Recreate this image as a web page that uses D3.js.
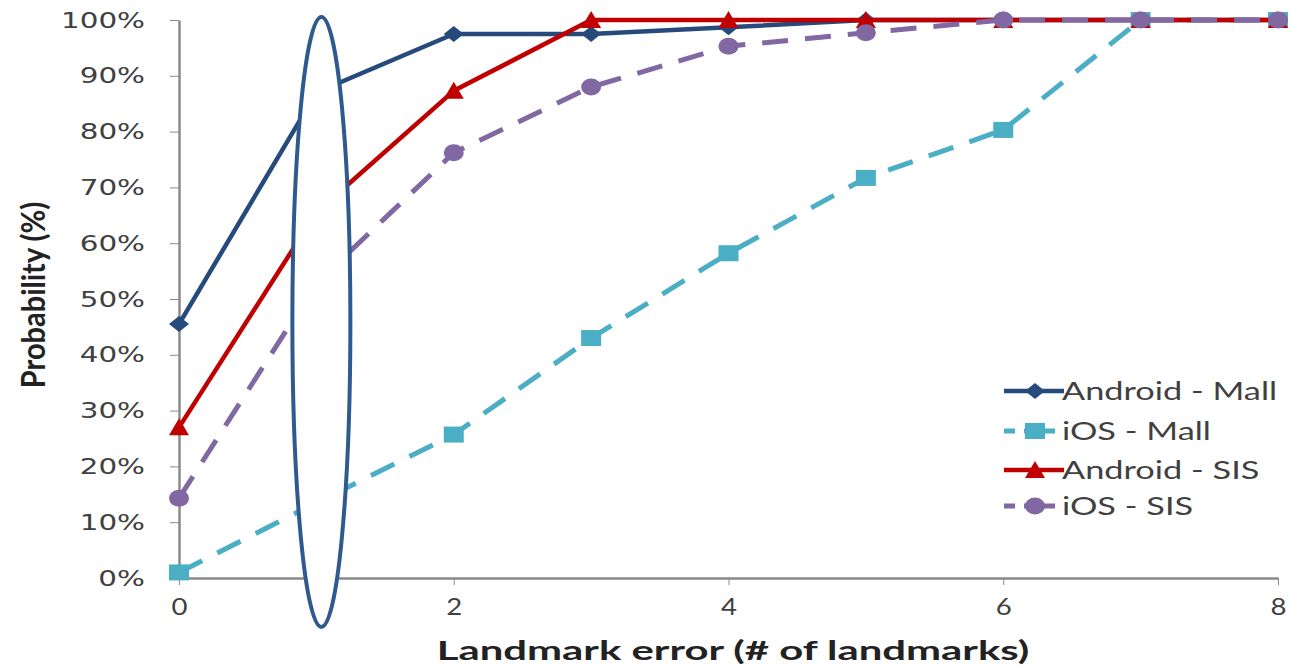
<!DOCTYPE html>
<html>
<head>
<meta charset="utf-8">
<script src="https://cdn.jsdelivr.net/npm/d3@7"></script>
<style>
  html, body { margin: 0; padding: 0; background: #fff; }
  svg { display: block; }
</style>
</head>
<body>
<svg id="chart" width="1290" height="666"></svg>
<script>
// Landmark error on the x axis, cumulative probability on the y axis
const landmarkError = [0, 1, 2, 3, 4, 5, 6, 7, 8];
const androidMall = [45.5, 87, 97.5, 97.5, 98.7, 100, 100, 100, 100];
const iosMall     = [1, 13.5, 25.7, 43, 58.2, 71.7, 80.3, 100, 100];
const androidSIS  = [27, 65.5, 87.3, 100, 100, 100, 100, 100, 100];
const iosSIS      = [14.3, 52.8, 76.2, 88, 95.3, 97.7, 100, 100, 100];

const xTickValues = [0, 2, 4, 6, 8];
const yTickValues = [0, 10, 20, 30, 40, 50, 60, 70, 80, 90, 100];

const seriesNames = ["Android - Mall", "iOS - Mall", "Android - SIS", "iOS - SIS"];
const seriesColors = ["#264a7c", "#4aaec4", "#c00000", "#8168a3"];
const seriesMarkers = ["diamond", "square", "triangle", "circle"];
const seriesDashed = [false, true, false, true];
const seriesValues = [androidMall, iosMall, androidSIS, iosSIS];

// highlighted landmark error
const highlightX = 1;

const series = seriesNames.map((name, i) => ({
  name,
  color: seriesColors[i],
  marker: seriesMarkers[i],
  dashed: seriesDashed[i],
  points: landmarkError.map((e, j) => ({ x: e, y: seriesValues[i][j] }))
}));

const svg = d3.select("#chart");
const stretch = 1.4;           // horizontal text widening
const textColor = "#404040";
const axisColor = "#8a8a8a";

const x = d3.scaleLinear().domain([0, 8]).range([179, 1278]);
const y = d3.scaleLinear().domain([0, 100]).range([578, 20]);

// marker shapes, slightly wider than tall
function markerPath(type) {
  const hw = 10, hh = 8;
  switch (type) {
    case "diamond":  return `M0,${-hh}L${hw},0L0,${hh}L${-hw},0Z`;
    case "square":   return `M${-hw},${-hh}H${hw}V${hh}H${-hw}Z`;
    case "triangle": return `M0,${-hh - 1}L${hw},${hh}L${-hw},${hh}Z`;
    default:         return "";
  }
}
function drawMarker(g, type, color) {
  if (type === "circle") {
    g.append("ellipse").attr("rx", 10).attr("ry", 8.5).attr("fill", color);
  } else {
    g.append("path").attr("d", markerPath(type)).attr("fill", color);
  }
}

// y axis
const yAxis = svg.append("g")
  .attr("transform", `translate(${x(0)},0)`)
  .call(d3.axisLeft(y).tickValues(yTickValues).tickFormat(d => d + "%").tickSize(9).tickSizeOuter(0));
yAxis.select(".domain").attr("stroke", axisColor).attr("stroke-width", 2.5);
yAxis.selectAll(".tick line").attr("stroke", axisColor).attr("stroke-width", 1);
yAxis.selectAll(".tick text")
  .attr("x", null).attr("dy", null)
  .attr("transform", `translate(-34,7) scale(${stretch},1)`)
  .attr("text-anchor", "end")
  .attr("fill", textColor)
  .style("font-family", "'DejaVu Sans', Verdana, sans-serif")
  .style("font-size", "21px");

// x axis
const xAxis = svg.append("g")
  .attr("transform", `translate(0,${y(0)})`)
  .call(d3.axisBottom(x).tickValues(xTickValues).tickFormat(d3.format("d")).tickSize(7).tickSizeOuter(0));
xAxis.select(".domain").attr("stroke", axisColor).attr("stroke-width", 2.5);
xAxis.selectAll(".tick line").attr("stroke", axisColor).attr("stroke-width", 1);
xAxis.selectAll(".tick text")
  .attr("y", null).attr("dy", null)
  .attr("transform", `translate(0,37) scale(1.15,1)`)
  .attr("text-anchor", "middle")
  .attr("fill", textColor)
  .style("font-family", "Lato, 'Open Sans', sans-serif")
  .style("font-size", "24px");

// axis titles
svg.append("text")
  .attr("transform", `translate(733,660) scale(1.55,1)`)
  .attr("text-anchor", "middle")
  .attr("fill", "#222")
  .style("font-family", "Lato, 'Open Sans', sans-serif")
  .style("font-weight", "bold")
  .style("font-size", "27px")
  .text("Landmark error (# of landmarks)");

svg.append("text")
  .attr("transform", `translate(45,295) scale(1.1,1) rotate(-90)`)
  .attr("text-anchor", "middle")
  .attr("fill", "#222")
  .style("font-family", "Lato, 'Open Sans', sans-serif")
  .style("font-weight", "bold")
  .style("font-size", "29px")
  .text("Probability (%)");

// series lines and markers
const line = d3.line().x(d => x(d.x)).y(d => y(d.y));
series.forEach(s => {
  const g = svg.append("g");
  g.append("path")
    .datum(s.points)
    .attr("d", line)
    .attr("fill", "none")
    .attr("stroke", s.color)
    .attr("stroke-width", s.dashed ? 5 : 4.5)
    .attr("stroke-dasharray", s.dashed ? "26,17" : null)
    .attr("stroke-linejoin", "round");
  g.selectAll("g.pt")
    .data(s.points)
    .join("g")
    .attr("class", "pt")
    .attr("transform", d => `translate(${x(d.x)},${y(d.y)})`)
    .each(function () { drawMarker(d3.select(this), s.marker, s.color); });
});

// highlight ellipse around landmark error = 1
svg.append("ellipse")
  .attr("cx", x(highlightX) + 5)
  .attr("cy", 322)
  .attr("rx", 29)
  .attr("ry", 305)
  .attr("fill", "#fff")
  .attr("stroke", "#2f5a8e")
  .attr("stroke-width", 4);

// legend
const legend = svg.append("g");
const legendRows = [391, 431, 470, 506];
series.forEach((s, i) => {
  const row = legend.append("g").attr("transform", `translate(1004,${legendRows[i]})`);
  row.append("line")
    .attr("x1", 0).attr("x2", s.dashed ? 52 : 60)
    .attr("stroke", s.color)
    .attr("stroke-width", s.dashed ? 5 : 4.5)
    .attr("stroke-dasharray", s.dashed ? "11,9" : null);
  const m = row.append("g").attr("transform", "translate(31,0)");
  drawMarker(m, s.marker, s.color);
  row.append("text")
    .attr("transform", `translate(58,9) scale(1.32,1)`)
    .attr("fill", textColor)
    .style("font-family", "Lato, 'Open Sans', sans-serif")
    .style("font-size", "26px")
    .text(s.name);
});
</script>
</body>
</html>
